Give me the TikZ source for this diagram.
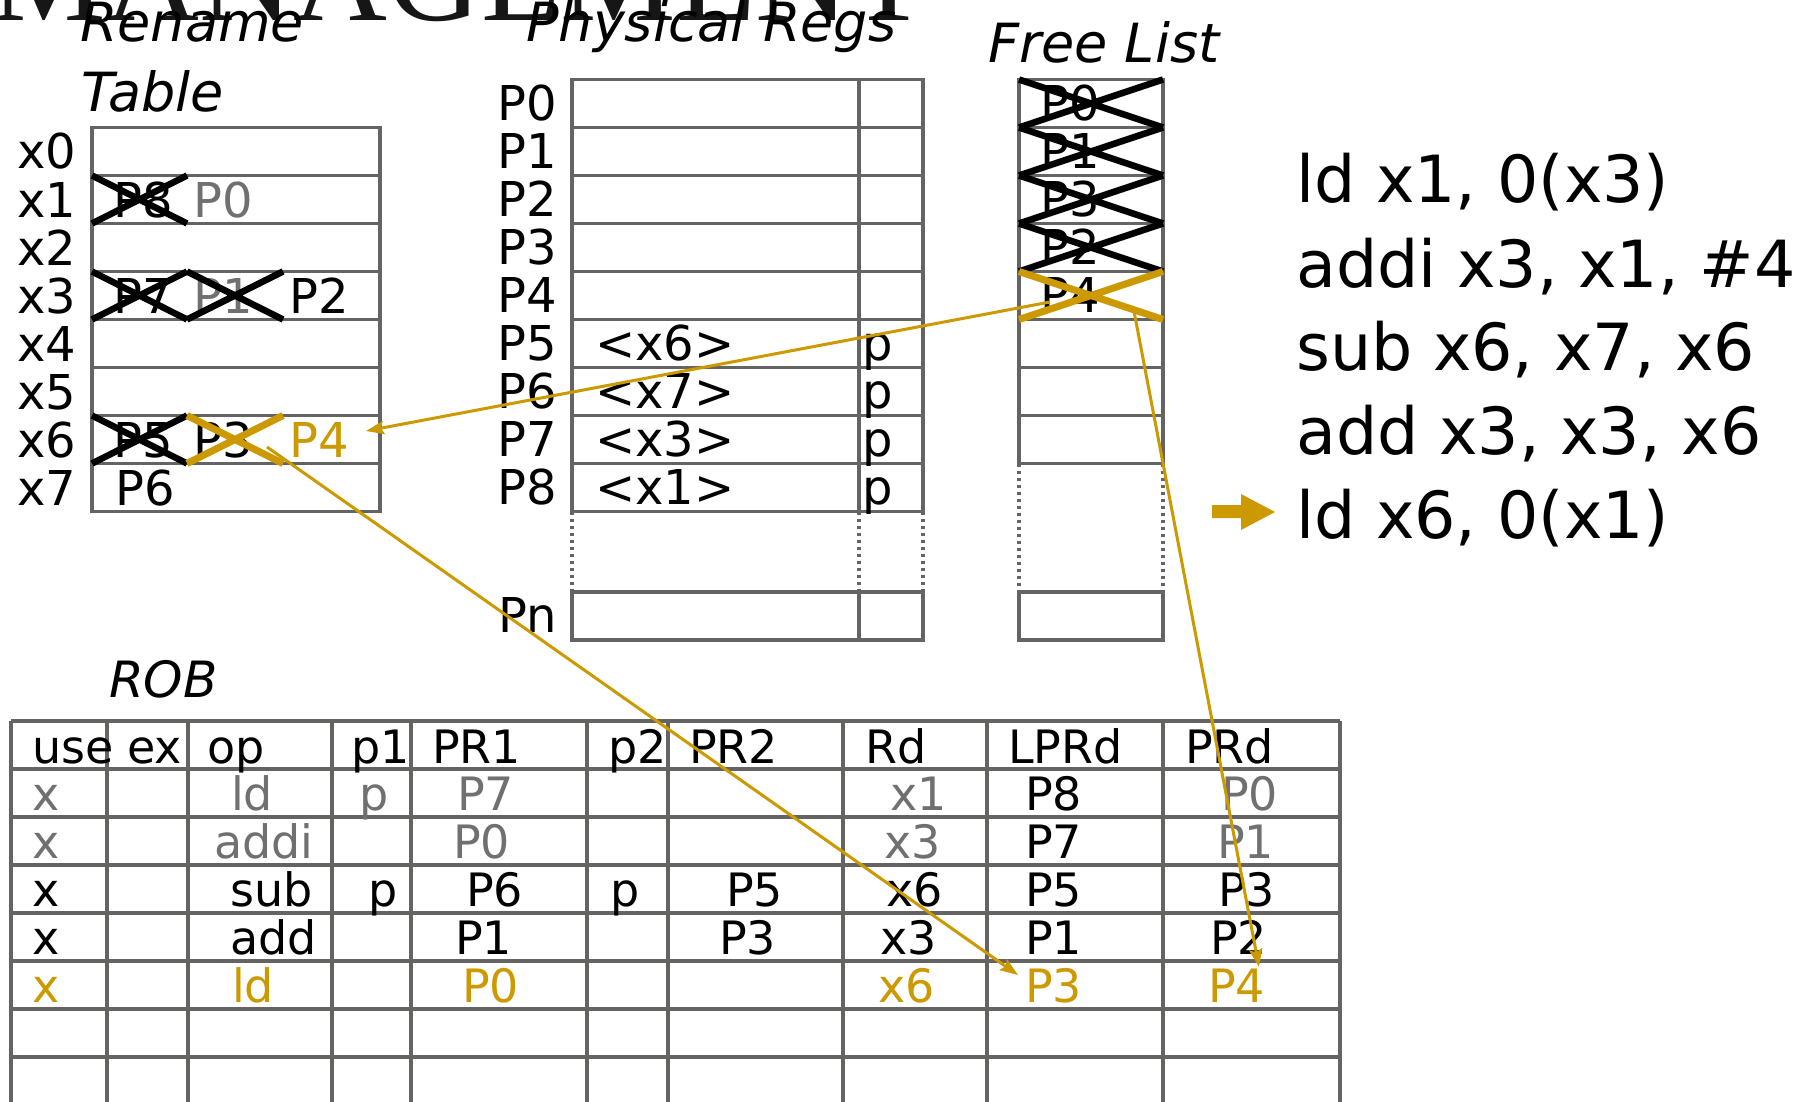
\documentclass[tikz,border=0pt]{standalone}
\usepackage{fontspec}
\setmainfont{DejaVu Sans}
\newfontfamily\titlefont{Liberation Serif}
\usetikzlibrary{arrows.meta}

\definecolor{gold}{RGB}{204,153,0}
\definecolor{gridgray}{RGB}{102,99,99}
\definecolor{txtgray}{RGB}{112,112,112}
\definecolor{titleink}{RGB}{22,22,22}

\newcommand\pxfont[1]{\fontsize{#1}{#1}\selectfont}

\begin{document}
\begin{tikzpicture}[x=1pt,y=-1pt,
  tab/.style={anchor=base west,inner sep=0pt,font=\pxfont{48}},
  rob/.style={anchor=base west,inner sep=0pt,font=\pxfont{46}},
  hdr/.style={anchor=base west,inner sep=0pt,font=\itshape\pxfont{54}},
  instr/.style={anchor=base west,inner sep=0pt,font=\pxfont{65}},
  grid/.style={draw=gridgray,line width=3.7pt},
  dots/.style={draw=gridgray,line width=3.7pt,dash pattern=on 3.5pt off 3.5pt},
  strike/.style={draw=black,line width=6.5pt},
  goldstrike/.style={draw=gold,line width=7pt},
  link/.style={draw=gold,line width=3pt,-{Stealth[length=18pt,width=13pt,inset=3pt]}},
  dim/.style={text=txtgray},
  hl/.style={text=gold}]

\useasboundingbox (0,0) rectangle (1806,1102);
\fill[white] (0,0) rectangle (1806,1102);
\clip (0,0) rectangle (1806,1102);

% slide title, mostly above the visible area
\node[anchor=base west,inner sep=0pt,font=\titlefont\pxfont{130},text=titleink] (title) at (-10,21) {MANAGEMENT};

% ---------------- captions ----------------
\node[hdr] (capRT1) at (80,42) {Rename};
\node[hdr] (capRT2) at (81,112) {Table};
\node[hdr] (capPR) at (526,42) {Physical Regs};
\node[hdr] (capFL) at (988,63) {Free List};
\node[hdr,font=\itshape\pxfont{50}] (capROB) at (109,697) {ROB};

% ---------------- rename table ----------------
\draw[grid] (92,127.5) rectangle (380,511.5);
\foreach \k in {1,...,7} \draw[grid] (92,127.5+48*\k) -- (380,127.5+48*\k);
\foreach \i in {0,...,7} \node[tab] (rtl\i) at (17,169+48*\i) {x\i};

\node[tab] (rt1a) at (113,217) {P8};
\node[tab,dim] (rt1b) at (193,217) {P0};
\node[tab] (rt3a) at (113,313) {P7};
\node[tab,dim] (rt3b) at (193,313) {P1};
\node[tab] (rt3c) at (289,313) {P2};
\node[tab] (rt6a) at (113,457) {P5};
\node[tab] (rt6b) at (193,457) {P3};
\node[tab,hl] (rt6c) at (289,457) {P4};
\node[tab] (rt7a) at (115,505) {P6};

% superseded mappings
\draw[strike] (92,175.5) -- (187,223.5) (92,223.5) -- (187,175.5);
\draw[strike] (92,271.5) -- (187,319.5) (92,319.5) -- (187,271.5);
\draw[strike] (187,271.5) -- (283,319.5) (187,319.5) -- (283,271.5);
\draw[strike] (92,415.5) -- (187,463.5) (92,463.5) -- (187,415.5);
\draw[goldstrike] (187,415.5) -- (283,463.5) (187,463.5) -- (283,415.5);

% ---------------- physical register file ----------------
\draw[grid] (572,79.5) rectangle (923,511.5);
\foreach \k in {1,...,8} \draw[grid] (572,79.5+48*\k) -- (923,79.5+48*\k);
\draw[grid] (859,79.5) -- (859,511.5);
\draw[dots] (572,511.5) -- (572,592) (859,511.5) -- (859,592) (923,511.5) -- (923,592);
\draw[grid] (572,592) rectangle (923,640) (859,592) -- (859,640);
\foreach \i in {0,...,8} \node[tab] (prl\i) at (497,120.5+48*\i) {P\i};
\node[tab] (prln) at (498,632) {Pn};

\node[tab] (pr5v) at (595,360.5) {<x6>};
\node[tab] (pr6v) at (595,408.5) {<x7>};
\node[tab] (pr7v) at (595,456.5) {<x3>};
\node[tab] (pr8v) at (595,504.5) {<x1>};
\foreach \i in {5,...,8} \node[tab] (prp\i) at (862,120.5+48*\i) {p};

% ---------------- free list ----------------
\draw[grid] (1019,79.5) rectangle (1163,463.5);
\foreach \k in {1,...,7} \draw[grid] (1019,79.5+48*\k) -- (1163,79.5+48*\k);
\draw[dots] (1019,463.5) -- (1019,592) (1163,463.5) -- (1163,592);
\draw[grid] (1019,592) rectangle (1163,640);

\foreach \v [count=\i from 0] in {P0,P1,P3,P2,P4}
  \node[tab] (fl\i) at (1040,120.5+48*\i) {\v};
\foreach \i in {0,...,3}
  \draw[strike] (1019,79.5+48*\i) -- (1163,127.5+48*\i) (1019,127.5+48*\i) -- (1163,79.5+48*\i);
\draw[goldstrike] (1019,271.5) -- (1163,319.5) (1019,319.5) -- (1163,271.5);

% ---------------- reorder buffer ----------------
\foreach \c in {11,107,188,332,411,587,668,843,987,1163,1340}
  \draw[grid] (\c,721) -- (\c,1112);
\foreach \k in {0,...,8} \draw[grid] (11,721+48*\k) -- (1340,721+48*\k);

\node[rob] (hUse) at (32,763) {use};
\node[rob] (hEx) at (127,763) {ex};
\node[rob] (hOp) at (207,763) {op};
\node[rob] (hP1) at (351,763) {p1};
\node[rob] (hPR1) at (432,763) {PR1};
\node[rob] (hP2) at (608,763) {p2};
\node[rob] (hPR2) at (689,763) {PR2};
\node[rob] (hRd) at (865,763) {Rd};
\node[rob] (hLPRd) at (1008,763) {LPRd};
\node[rob] (hPRd) at (1185,763) {PRd};

% row 1: ld x1, 0(x3)
\node[rob,dim] (r1use) at (32,810) {x};
\node[rob,dim] (r1op) at (231,810) {ld};
\node[rob,dim] (r1p1) at (359,810) {p};
\node[rob,dim] (r1pr1) at (457,810) {P7};
\node[rob,dim] (r1rd) at (890,810) {x1};
\node[rob] (r1lp) at (1025,810) {P8};
\node[rob,dim] (r1pr) at (1221,810) {P0};
% row 2: addi x3, x1, #4
\node[rob,dim] (r2use) at (32,858) {x};
\node[rob,dim] (r2op) at (214,858) {addi};
\node[rob,dim] (r2pr1) at (453,858) {P0};
\node[rob,dim] (r2rd) at (884,858) {x3};
\node[rob] (r2lp) at (1025,858) {P7};
\node[rob,dim] (r2pr) at (1217,858) {P1};
% row 3: sub x6, x7, x6
\node[rob] (r3use) at (32,906) {x};
\node[rob] (r3op) at (230,906) {sub};
\node[rob] (r3p1) at (368,906) {p};
\node[rob] (r3pr1) at (466,906) {P6};
\node[rob] (r3p2) at (610,906) {p};
\node[rob] (r3pr2) at (726,906) {P5};
\node[rob] (r3rd) at (886,906) {x6};
\node[rob] (r3lp) at (1025,906) {P5};
\node[rob] (r3pr) at (1218,906) {P3};
% row 4: add x3, x3, x6
\node[rob] (r4use) at (32,954) {x};
\node[rob] (r4op) at (230,954) {add};
\node[rob] (r4pr1) at (455,954) {P1};
\node[rob] (r4pr2) at (719,954) {P3};
\node[rob] (r4rd) at (880,954) {x3};
\node[rob] (r4lp) at (1025,954) {P1};
\node[rob] (r4pr) at (1210,954) {P2};
% row 5: ld x6, 0(x1), being renamed
\node[rob,hl] (r5use) at (32,1002) {x};
\node[rob,hl] (r5op) at (232,1002) {ld};
\node[rob,hl] (r5pr1) at (462,1002) {P0};
\node[rob,hl] (r5rd) at (878,1002) {x6};
\node[rob,hl] (r5lp) at (1025,1002) {P3};
\node[rob,hl] (r5pr) at (1208,1002) {P4};

% ---------------- instruction stream ----------------
\node[instr] (ins1) at (1296,203) {ld x1, 0(x3)};
\node[instr] (ins2) at (1296,287) {addi x3, x1, \#4};
\node[instr] (ins3) at (1296,370) {sub x6, x7, x6};
\node[instr] (ins4) at (1296,454) {add x3, x3, x6};
\node[instr] (ins5) at (1296,538) {ld x6, 0(x1)};
\fill[gold] (1212,505) -- (1241,505) -- (1241,494) -- (1275,512) -- (1241,530)
  -- (1241,518) -- (1212,518) -- cycle;

% ---------------- data movement ----------------
\coordinate (flOut) at (1050,302);
\coordinate (rtIn) at (366,431);
\coordinate (rtOut) at (267,447);
\coordinate (lpIn) at (1018,975);
\coordinate (flOut2) at (1133,306);
\coordinate (prIn) at (1259,967);
\draw[link] (flOut) -- (rtIn);
\draw[link] (rtOut) -- (lpIn);
\draw[link] (flOut2) -- (prIn);

\end{tikzpicture}
\end{document}
